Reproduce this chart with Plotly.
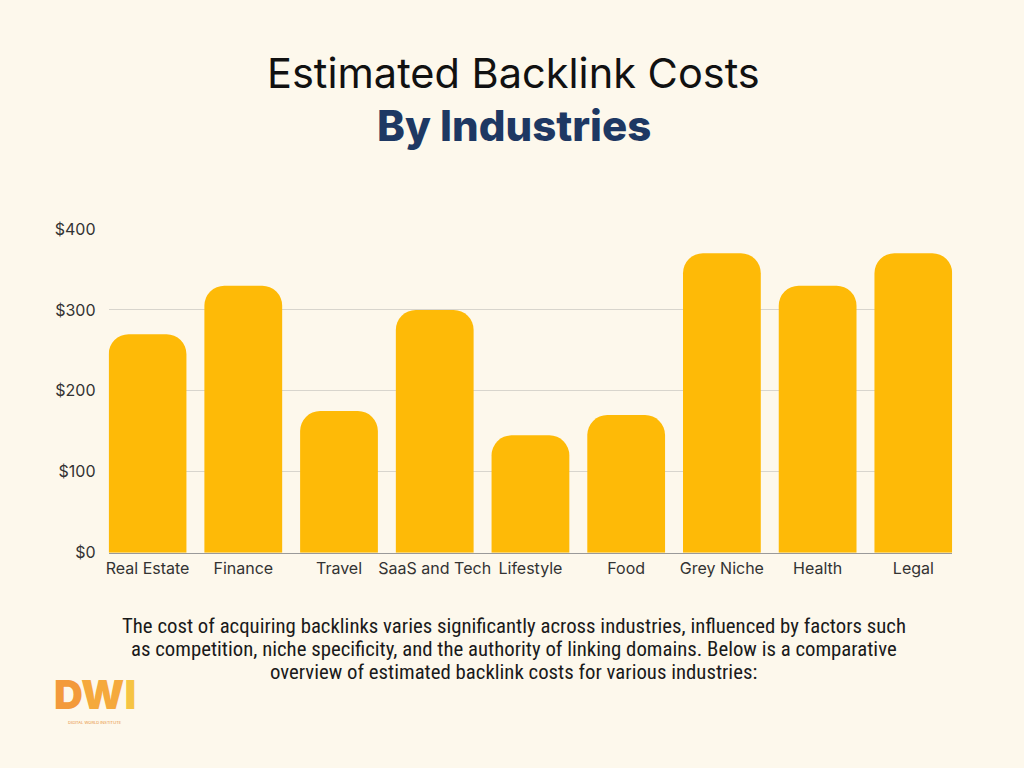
import plotly.graph_objects as go

categories = ["Real Estate", "Finance", "Travel", "SaaS and Tech", "Lifestyle",
              "Food", "Grey Niche", "Health", "Legal"]
costs = [270, 330, 175, 300, 145, 170, 370, 330, 370]
y_ticks = [0, 100, 200, 300, 400]
y_tick_labels = ["$0", "$100", "$200", "$300", "$400"]
paragraph_lines = [
    "The cost of acquiring backlinks varies significantly across industries, influenced by factors such",
    "as competition, niche specificity, and the authority of linking domains. Below is a comparative",
    "overview of estimated backlink costs for various industries:",
]

BG = "#FDF8EC"
BAR = "#FEBA07"
H = 768.0


def py(px):
    # compensate observed vertical scaling of rendering
    return 1 - (391 + (px - 391) / 0.975) / H


fig = go.Figure(go.Bar(
    x=list(range(len(categories))), y=costs,
    marker=dict(color=BAR, cornerradius=20, line=dict(width=0)),
    hoverinfo="skip",
))

fig.update_layout(
    width=1024, height=768,
    paper_bgcolor=BG, plot_bgcolor=BG,
    margin=dict(l=0, r=0, t=0, b=0),
    showlegend=False,
    bargap=0.1875,
    font=dict(family="Inter, Roboto, sans-serif", color="#333333"),
)
fig.update_xaxes(
    domain=[106 / 1024, 952 / 1024],
    range=[-0.406, 8.406],
    tickmode="array", tickvals=list(range(len(categories))), ticktext=categories,
    tickfont=dict(size=16, color="#333333"),
    showgrid=False, zeroline=False,
    showline=True, linecolor="#9a9a9a", linewidth=1,
    ticks="outside", ticklen=1, tickcolor="rgba(0,0,0,0)",
)
fig.update_yaxes(
    domain=[py(553), py(229)],
    range=[0, 400],
    tickmode="array", tickvals=y_ticks, ticktext=y_tick_labels,
    tickfont=dict(size=16, color="#333333"),
    showgrid=True, gridcolor="#D8D5CD", gridwidth=1,
    zeroline=False, showline=False,
    ticks="outside", ticklen=9, tickcolor="rgba(0,0,0,0)",
)

annotations = [
    dict(text="Estimated Backlink Costs", x=0.5, y=py(73), xref="paper", yref="paper",
         showarrow=False, xanchor="center", yanchor="middle",
         font=dict(family="Inter, Lato, sans-serif", size=41.5, color="#111111")),
    dict(text="By Industries", x=0.5, y=py(125), xref="paper", yref="paper",
         showarrow=False, xanchor="center", yanchor="middle",
         font=dict(family="Inter, Lato, sans-serif", size=42, weight=800, color="#1E3863")),
]
for i, line in enumerate(paragraph_lines):
    annotations.append(dict(
        text=line, x=0.5, y=py(626 + 23 * i), xref="paper", yref="paper",
        showarrow=False, xanchor="center", yanchor="middle",
        font=dict(family="Liberation Sans Narrow, Roboto Condensed, sans-serif", size=20.8, color="#1a1a1a")))

annotations += [
    dict(text="<span style='color:#F39A3B'>D</span><span style='color:#F5A93C'>W</span><span style='color:#F6C443'>I</span>",
         x=92 / 1024, y=py(695), xref="paper", yref="paper",
         showarrow=False, xanchor="center", yanchor="middle",
         font=dict(family="Inter, sans-serif", size=40, weight=900, color="#F5A035")),
    dict(text="DIGITAL WORLD INSTITUTE", x=92 / 1024, y=py(723), xref="paper", yref="paper",
         showarrow=False, xanchor="center", yanchor="middle",
         font=dict(family="Inter, sans-serif", size=4, color="#E8923A")),
]
fig.update_layout(annotations=annotations)

fig.write_html("out.html")
